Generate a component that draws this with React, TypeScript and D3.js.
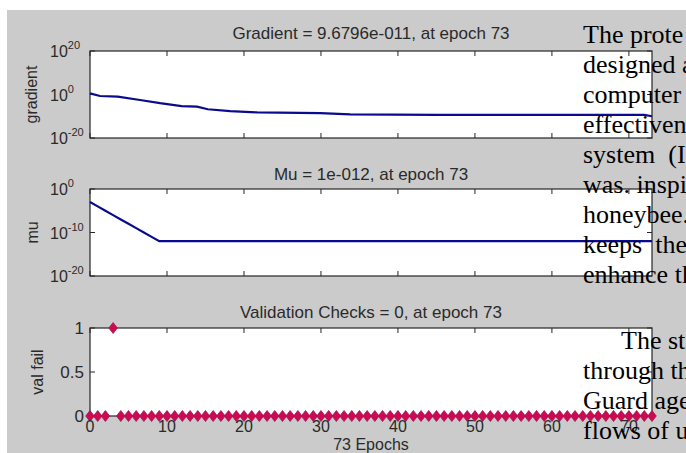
import React from 'react';
import * as d3 from 'd3';

const W = 686;
const H = 453;

const xTicks = [0, 10, 20, 30, 40, 50, 60, 70];
const xMax = 73;

const gradEpochs = [0, 1.3, 3.6, 6.5, 9.1, 11.9, 13.9, 15.3, 18.2, 21.7, 29.9, 33.8, 45, 72, 73];
const gradValues = [3.5, 0.2, 0.1, 3e-3, 1e-4, 5e-6, 2.5e-6, 1.6e-7, 2.5e-8, 6e-9, 2.5e-9, 8e-10, 4e-10, 4e-10, 9.6796e-11];

const muEpochs = [0, 1, 2, 3, 4, 5, 6, 7, 8, 9, 73];
const muValues = [1e-3, 1e-4, 1e-5, 1e-6, 1e-7, 1e-8, 1e-9, 1e-10, 1e-11, 1e-12, 1e-12];

const valFail = [
  0, 0, 0, 1, 0, 0, 0, 0, 0, 0,
  0, 0, 0, 0, 0, 0, 0, 0, 0, 0,
  0, 0, 0, 0, 0, 0, 0, 0, 0, 0,
  0, 0, 0, 0, 0, 0, 0, 0, 0, 0,
  0, 0, 0, 0, 0, 0, 0, 0, 0, 0,
  0, 0, 0, 0, 0, 0, 0, 0, 0, 0,
  0, 0, 0, 0, 0, 0, 0, 0, 0, 0,
  0, 0, 0, 0,
];

const gradTickExp = [-20, 0, 20];
const muTickExp = [-20, -10, 0];
const valTicks = [0, 0.5, 1];
const valTickLabels = ['0', '0.5', '1'];

const titles = [
  'Gradient = 9.6796e-011, at epoch 73',
  'Mu = 1e-012, at epoch 73',
  'Validation Checks = 0, at epoch 73',
];
const yLabels = ['gradient', 'mu', 'val fail'];
const xLabel = '73 Epochs';

const para1 = ['The prote', 'designed a', 'computer', 'effectiven', 'system  (I', 'was. inspi', 'honeybee.', 'keeps  the', 'enhance th'];
const para2 = ['The st', 'through th', 'Guard age', 'flows of u'];

const SANS = "'Liberation Sans', Arial, sans-serif";
const SERIF = "'Liberation Serif', 'Times New Roman', serif";

const X0 = 90;
const X1 = 652;
const BLUE = '#0a0a8e';
const AX = '#262626';
const TXT = '#2a2a2a';

export default function App() {
  const x = d3.scaleLinear().domain([0, xMax]).range([X0, X1]);

  const panels = [
    { top: 51, bottom: 138 },
    { top: 189, bottom: 276 },
    { top: 328, bottom: 416 },
  ];

  const yG = d3.scaleLog().domain([1e-20, 1e20]).range([panels[0].bottom, panels[0].top]);
  const yM = d3.scaleLog().domain([1e-20, 1]).range([panels[1].bottom, panels[1].top]);
  const yV = d3.scaleLinear().domain([0, 1]).range([panels[2].bottom, panels[2].top]);

  const gradLine = d3.line<number>().x((_, i) => x(gradEpochs[i])).y((d) => yG(d))(gradValues) || '';
  const muLine = d3.line<number>().x((_, i) => x(muEpochs[i])).y((d) => yM(d))(muValues) || '';

  const yTickSets = [
    gradTickExp.map((e) => yG(Math.pow(10, e))),
    muTickExp.map((e) => yM(Math.pow(10, e))),
    valTicks.map((v) => yV(v)),
  ];

  const labelX = [37, 38, 43];

  return (
    <div style={{ position: 'absolute', left: 0, top: 0 }}>
      <svg width={W} height={H} viewBox={`0 0 ${W} ${H}`} style={{ display: 'block' }}>
        <rect x={0} y={0} width={W} height={H} fill="#ffffff" />
        <rect x={7} y={10} width={W - 7} height={H - 10} fill="#cbcbcb" />

        {panels.map((p, pi) => (
          <g key={pi}>
            <rect x={X0} y={p.top} width={X1 - X0} height={p.bottom - p.top} fill="#ffffff" stroke={AX} strokeWidth={1.2} />
            {xTicks.map((t) => (
              <g key={t}>
                <line x1={x(t)} x2={x(t)} y1={p.bottom} y2={p.bottom - 5} stroke={AX} strokeWidth={1} />
                <line x1={x(t)} x2={x(t)} y1={p.top} y2={p.top + 5} stroke={AX} strokeWidth={1} />
              </g>
            ))}
            {yTickSets[pi].map((ty, i) => (
              <g key={i}>
                <line x1={X0} x2={X0 + 5} y1={ty} y2={ty} stroke={AX} strokeWidth={1} />
                <line x1={X1} x2={X1 - 5} y1={ty} y2={ty} stroke={AX} strokeWidth={1} />
              </g>
            ))}
            <text x={(X0 + X1) / 2} y={[39, 180, 318][pi]} textAnchor="middle" fontFamily={SANS} fontSize={17} fill={TXT}>
              {titles[pi]}
            </text>
            <text
              transform={`translate(${labelX[pi]},${(p.top + p.bottom) / 2}) rotate(-90)`}
              textAnchor="middle"
              fontFamily={SANS}
              fontSize={16}
              fill={TXT}
            >
              {yLabels[pi]}
            </text>
          </g>
        ))}

        {gradTickExp.map((e) => (
          <text key={'g' + e} x={50} y={yG(Math.pow(10, e)) + 6} fontFamily={SANS} fontSize={16} fill={TXT}>
            10<tspan dy={-8} fontSize={11}>{e}</tspan>
          </text>
        ))}
        {muTickExp.map((e) => (
          <text key={'m' + e} x={50} y={yM(Math.pow(10, e)) + 6} fontFamily={SANS} fontSize={16} fill={TXT}>
            10<tspan dy={-8} fontSize={11}>{e}</tspan>
          </text>
        ))}
        {valTicks.map((v, i) => (
          <text key={'v' + v} x={84} y={yV(v) + 6} textAnchor="end" fontFamily={SANS} fontSize={17} fill={TXT}>
            {valTickLabels[i]}
          </text>
        ))}

        <path d={gradLine} fill="none" stroke={BLUE} strokeWidth={2.2} />
        <path d={muLine} fill="none" stroke={BLUE} strokeWidth={2.2} />

        {valFail.map((v, i) => (
          <path
            key={i}
            transform={`translate(${x(i)},${yV(v)})`}
            d="M0,-5.5 L4.3,0 L0,5.5 L-4.3,0 Z"
            fill="#d0084f"
            stroke="#9a1a5c"
            strokeWidth={0.8}
          />
        ))}

        {xTicks.map((t) => (
          <text key={'xt' + t} x={x(t)} y={432} textAnchor="middle" fontFamily={SANS} fontSize={16} fill={TXT}>
            {t}
          </text>
        ))}
        <text x={(X0 + X1) / 2} y={450} textAnchor="middle" fontFamily={SANS} fontSize={16} fill={TXT}>
          {xLabel}
        </text>

        <g fontFamily={SERIF} fontSize={26} fill="#000000">
          {para1.map((s, i) => (
            <text key={'p1' + i} x={583} y={43 + i * 30} style={{ whiteSpace: 'pre' }}>
              {s}
            </text>
          ))}
          {para2.map((s, i) => (
            <text key={'p2' + i} x={i === 0 ? 621 : 583} y={349 + i * 30} style={{ whiteSpace: 'pre' }}>
              {s}
            </text>
          ))}
        </g>
      </svg>
    </div>
  );
}
